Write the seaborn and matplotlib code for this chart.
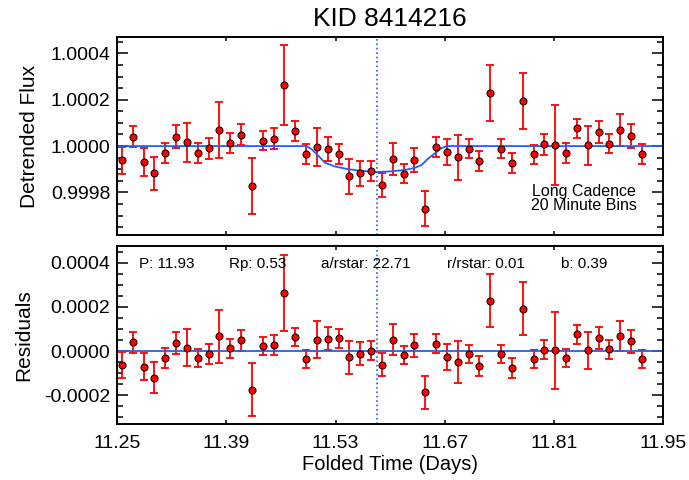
import matplotlib
matplotlib.use('Agg')
import matplotlib.pyplot as plt
from matplotlib.ticker import MultipleLocator, AutoMinorLocator, FormatStrFormatter
import seaborn as sns

# binned light curve (20 minute bins)
time = [11.2560, 11.2699, 11.2838, 11.2977, 11.3116, 11.3254, 11.3393, 11.3532, 11.3671, 11.3810,
        11.3949, 11.4088, 11.4227, 11.4366, 11.4504, 11.4643, 11.4782, 11.4921, 11.5060, 11.5199,
        11.5338, 11.5477, 11.5616, 11.5754, 11.5893, 11.6032, 11.6171, 11.6310, 11.6449, 11.6588,
        11.6727, 11.6866, 11.7004, 11.7143, 11.7282, 11.7421, 11.7560, 11.7699, 11.7838, 11.7977,
        11.8116, 11.8254, 11.8393, 11.8532, 11.8671, 11.8810, 11.8949, 11.9088, 11.9227]

flux = [0.999938, 1.000040, 0.999931, 0.999882, 0.999970, 1.000040, 1.000016, 0.999971, 0.999990, 1.000069,
        1.000014, 1.000049, 0.999827, 1.000024, 1.000032, 1.000262, 1.000066, 0.999966, 0.999996, 0.999989,
        0.999964, 0.999870, 0.999882, 0.999892, 0.999832, 0.999944, 0.999881, 0.999940, 0.999730, 0.999997,
        0.999974, 0.999951, 0.999989, 0.999935, 1.000229, 0.999989, 0.999927, 1.000194, 0.999964, 1.000007,
        1.000004, 0.999971, 1.000076, 1.000004, 1.000060, 1.000010, 1.000069, 1.000044, 0.999966]

flux_err = [6.0e-5, 4.6e-5, 6.0e-5, 7.0e-5, 4.4e-5, 5.0e-5, 8.4e-5, 4.2e-5, 4.6e-5, 1.20e-4,
            4.2e-5, 4.6e-5, 1.20e-4, 4.2e-5, 4.5e-5, 1.73e-4, 4.2e-5, 4.2e-5, 8.3e-5, 5.2e-5,
            4.3e-5, 7.5e-5, 5.3e-5, 4.4e-5, 5.3e-5, 6.9e-5, 4.2e-5, 5.2e-5, 7.5e-5, 4.3e-5,
            5.7e-5, 9.7e-5, 4.2e-5, 4.4e-5, 1.20e-4, 4.2e-5, 4.4e-5, 1.20e-4, 4.2e-5, 4.4e-5,
            1.73e-4, 4.2e-5, 4.2e-5, 8.4e-5, 4.8e-5, 4.2e-5, 6.8e-5, 5.3e-5, 4.2e-5]

resid = [-6.4e-5, 3.9e-5, -7.1e-5, -1.20e-4, -3.2e-5, 3.8e-5, 1.4e-5, -3.2e-5, -1.2e-5, 6.7e-5,
         1.2e-5, 4.8e-5, -1.76e-4, 2.3e-5, 2.9e-5, 2.62e-4, 6.4e-5, -3.5e-5, 5.2e-5, 5.5e-5,
         5.8e-5, -2.9e-5, -1.2e-5, 1.5e-6, -6.1e-5, 5.2e-5, -1.8e-5, 2.7e-5, -1.86e-4, 3.2e-5,
         -2.7e-5, -5.0e-5, -1.4e-5, -6.7e-5, 2.29e-4, -1.4e-5, -7.6e-5, 1.92e-4, -3.6e-5, 6e-6,
         3e-6, -3.2e-5, 7.6e-5, 3e-6, 5.9e-5, 7.6e-6, 6.8e-5, 4.4e-5, -3.6e-5]

# transit model curve
model_time = [11.25, 11.4928, 11.4996, 11.5073, 11.5163, 11.5291, 11.5462, 11.5637, 11.5826,
              11.6009, 11.6188, 11.6317, 11.6403, 11.6483, 11.6573, 11.6650, 11.6723, 11.95]
model_flux = [1.0, 1.0, 0.999985, 0.99996, 0.999928, 0.999912, 0.9999, 0.999893, 0.999888,
              0.999891, 0.999897, 0.999906, 0.999919, 0.999945, 0.999969, 0.99999, 1.0, 1.0]

mid_transit = 11.583
xticks = [11.25, 11.39, 11.53, 11.67, 11.81, 11.95]
fit_labels = ['P: 11.93', 'Rp: 0.53', 'a/rstar: 22.71', 'r/rstar: 0.01', 'b: 0.39']
fit_xpos = [0.039, 0.205, 0.373, 0.604, 0.813]

sns.set_theme(style='ticks')
plt.rcParams['font.family'] = ['Liberation Sans', 'DejaVu Sans']
plt.rcParams['axes.unicode_minus'] = False
plt.rcParams['text.color'] = 'black'
plt.rcParams['axes.labelcolor'] = 'black'
plt.rcParams['xtick.color'] = 'black'
plt.rcParams['ytick.color'] = 'black'

fig = plt.figure(figsize=(6.89, 4.8), dpi=100)
ax1 = fig.add_axes([0.1702, 0.5098, 0.7925, 0.4138])
ax2 = fig.add_axes([0.1702, 0.1160, 0.7925, 0.3715])

line_blue = '#1f5fff'


def style_axis(ax):
    for s in ax.spines.values():
        s.set_linewidth(1.4)
        s.set_color('black')
    ax.set_xlim(11.25, 11.95)
    ax.set_xticks(xticks)
    ax.yaxis.set_minor_locator(AutoMinorLocator(4))
    ax.yaxis.set_major_formatter(FormatStrFormatter('%.4f'))
    ax.tick_params(which='both', direction='in', top=True, right=True, colors='black',
                   labelsize=14, width=1.1, pad=5)
    ax.tick_params(axis='y', which='major', length=8)
    ax.tick_params(axis='y', which='minor', length=4)
    ax.tick_params(axis='x', which='major', length=3, pad=8)
    ax.tick_params(axis='x', which='minor', length=0)


# top panel: detrended flux
ax1.errorbar(time, flux, yerr=flux_err, fmt='none', ecolor='red', elinewidth=1.3,
             capsize=2.6, capthick=1.3, zorder=2)
sns.lineplot(x=model_time, y=model_flux, ax=ax1, color=line_blue, linewidth=1.3,
             estimator=None, errorbar=None, zorder=2.5)
sns.scatterplot(x=time, y=flux, ax=ax1, color='red', edgecolor='black', s=26,
                linewidth=0.7, zorder=3)
ax1.axvline(mid_transit, color=line_blue, linestyle=':', linewidth=1.2, zorder=1)
style_axis(ax1)
ax1.set_ylim(0.999615, 1.000472)
ax1.yaxis.set_major_locator(MultipleLocator(0.0002))
ax1.tick_params(axis='x', labelbottom=False)
ax1.set_ylabel('Detrended Flux', fontsize=15, labelpad=8, color='black')
ax1.set_xlabel('')
ax1.set_title('KID 8414216', fontsize=19, pad=7.5, color='black')
ax1.text(0.854, 0.185, 'Long Cadence\n20 Minute Bins', transform=ax1.transAxes, color='black',
         ha='center', va='center', multialignment='center', fontsize=11.5, linespacing=0.95)

# bottom panel: residuals
ax2.errorbar(time, resid, yerr=flux_err, fmt='none', ecolor='red', elinewidth=1.3,
             capsize=2.6, capthick=1.3, zorder=2)
ax2.axhline(0.0, color='#2a5fe0', linewidth=1.3, zorder=2.5)
sns.scatterplot(x=time, y=resid, ax=ax2, color='red', edgecolor='black', s=26,
                linewidth=0.7, zorder=3)
ax2.axvline(mid_transit, color=line_blue, linestyle=':', linewidth=1.2, zorder=1)
style_axis(ax2)
ax2.set_ylim(-0.000332, 0.000476)
ax2.yaxis.set_major_locator(MultipleLocator(0.0002))
ax2.xaxis.set_major_formatter(FormatStrFormatter('%.2f'))
ax2.set_ylabel('Residuals', fontsize=15, labelpad=8, color='black')
ax2.set_xlabel('Folded Time (Days)', fontsize=14.5, labelpad=2, color='black')
for lab, xp in zip(fit_labels, fit_xpos):
    ax2.text(xp, 0.899, lab, transform=ax2.transAxes, ha='left', va='center',
             fontsize=11, color='black')

fig.savefig('out.png', dpi=100)
